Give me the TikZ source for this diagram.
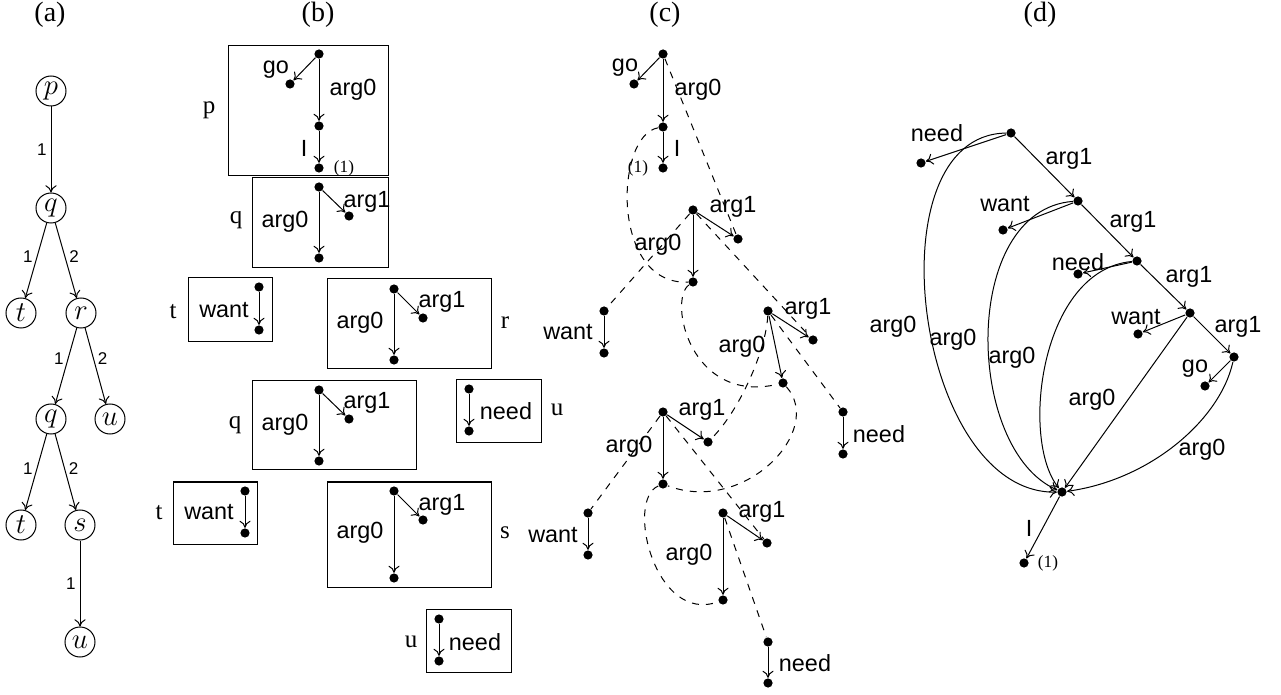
\documentclass[tikz,border=0pt]{standalone}
\usepackage{fontspec}
\setmainfont{Liberation Serif}
\setsansfont{Liberation Sans}
\usepackage{tikz}
\usetikzlibrary{arrows.meta}
\tikzset{
  dot/.style={circle,fill=black,inner sep=0pt,minimum size=4.6pt},
  tnode/.style={circle,draw,inner sep=0pt,minimum size=15pt,font=\Large},
  lab/.style={inner sep=0pt,font=\fontsize{11.7}{13}\selectfont\sffamily},
  num/.style={inner sep=0pt,font=\fontsize{8.5}{10}\selectfont\sffamily},
  frag/.style={inner sep=0pt,font=\fontsize{12.5}{14}\selectfont},
  idx/.style={inner sep=0pt,font=\fontsize{8.6}{10}\selectfont},
  panel/.style={inner sep=0pt,font=\fontsize{14}{16}\selectfont},
  fragbox/.style={draw,line width=0.5pt},
  glue/.style={dashed,dash pattern=on 3.5pt off 3.5pt}
}

\begin{document}
\begin{tikzpicture}[x=0.5pt,y=-0.5pt,>={To[length=3.6pt,width=5.6pt]},line width=0.5pt]
\useasboundingbox (0,0) rectangle (1281,695);

\node[panel] (la) at (50,15) {(a)};
\node[panel] (lb) at (318,15) {(b)};
\node[panel] (lc) at (665,15) {(c)};
\node[panel] (ld) at (1040,15) {(d)};

% (a)
\node[tnode] (p) at (51,91) {$p$};
\node[tnode] (q1) at (51,208) {$q$};
\node[tnode] (t1) at (21,313) {$t$};
\node[tnode] (r) at (81,313) {$r$};
\node[tnode] (q2) at (51,419) {$q$};
\node[tnode] (u1) at (110,419) {$u$};
\node[tnode] (t2) at (21,525) {$t$};
\node[tnode] (s) at (80,525) {$s$};
\node[tnode] (u2) at (80,642) {$u$};
\draw[->] (p) -- node[num,left=2pt,pos=0.5] {1} (q1);
\draw[->] (q1) -- node[num,left=2pt,pos=0.45] {1} (t1);
\draw[->] (q1) -- node[num,right=2pt,pos=0.45] {2} (r);
\draw[->] (r) -- node[num,left=2pt,pos=0.4] {1} (q2);
\draw[->] (r) -- node[num,right=2pt,pos=0.4] {2} (u1);
\draw[->] (q2) -- node[num,left=2pt,pos=0.45] {1} (t2);
\draw[->] (q2) -- node[num,right=2pt,pos=0.45] {2} (s);
\draw[->] (s) -- node[num,left=2pt,pos=0.5] {1} (u2);

% (b)
\draw[fragbox] (228,46) rectangle (388,176);
\node[frag] (bpl) at (209,110) {p};
\node[dot] (bp0) at (319,54) {};
\node[dot] (bpg) at (290,84) {};
\node[dot] (bp1) at (319,126) {};
\node[dot] (bp2) at (319,168) {};
\draw[->] (bp0) -- (bpg);
\draw[->] (bp0) -- (bp1);
\draw[->] (bp1) -- (bp2);
\node[lab] (bpgo) at (276,70) {go};
\node[lab] (bpa0) at (353,90) {arg0};
\node[lab] (bpi) at (304,148) {I};
\node[idx] (bpx) at (344,168) {(1)};

\draw[fragbox] (252,178) rectangle (388,268);
\node[frag] (bql) at (236,220) {q};
\node[dot] (bq0) at (319,187) {};
\node[dot] (bq1) at (349,216) {};
\node[dot] (bq2) at (319,258) {};
\draw[->] (bq0) -- (bq1);
\draw[->] (bq0) -- (bq2);
\node[lab] (bqa1) at (367,202) {arg1};
\node[lab] (bqa0) at (285,222) {arg0};

\draw[fragbox] (188,278) rectangle (272,342);
\node[frag] (btl) at (173,312) {t};
\node[dot] (bt0) at (259,287) {};
\node[dot] (bt1) at (259,330) {};
\draw[->] (bt0) -- (bt1);
\node[lab] (btw) at (224,310) {want};

\draw[fragbox] (327,279) rectangle (491,369);
\node[frag] (brl) at (505,323) {r};
\node[dot] (br0) at (394,289) {};
\node[dot] (br1) at (423,318) {};
\node[dot] (br2) at (394,360) {};
\draw[->] (br0) -- (br1);
\draw[->] (br0) -- (br2);
\node[lab] (bra1) at (442,302) {arg1};
\node[lab] (bra0) at (360,323) {arg0};

\draw[fragbox] (252,381) rectangle (416,470);
\node[frag] (bq2l) at (235,425) {q};
\node[dot] (bq20) at (319,390) {};
\node[dot] (bq21) at (349,419) {};
\node[dot] (bq22) at (319,461) {};
\draw[->] (bq20) -- (bq21);
\draw[->] (bq20) -- (bq22);
\node[lab] (bq2a1) at (367,403) {arg1};
\node[lab] (bq2a0) at (285,425) {arg0};

\draw[fragbox] (456,380) rectangle (541,443);
\node[frag] (bul) at (557,410) {u};
\node[dot] (bu0) at (469,389) {};
\node[dot] (bu1) at (469,431) {};
\draw[->] (bu0) -- (bu1);
\node[lab] (bun) at (506,411) {need};

\draw[fragbox] (173,482) rectangle (257,544);
\node[frag] (bt2l) at (159,513) {t};
\node[dot] (bt20) at (245,491) {};
\node[dot] (bt21) at (245,533) {};
\draw[->] (bt20) -- (bt21);
\node[lab] (bt2w) at (209,512) {want};

\draw[fragbox] (327,482) rectangle (491,587);
\node[frag] (bsl) at (505,533) {s};
\node[dot] (bs0) at (394,491) {};
\node[dot] (bs1) at (423,520) {};
\node[dot] (bs2) at (394,578) {};
\draw[->] (bs0) -- (bs1);
\draw[->] (bs0) -- (bs2);
\node[lab] (bsa1) at (442,505) {arg1};
\node[lab] (bsa0) at (360,533) {arg0};

\draw[fragbox] (426,609) rectangle (511,672);
\node[frag] (bu2l) at (411,642) {u};
\node[dot] (bu20) at (439,619) {};
\node[dot] (bu21) at (439,661) {};
\draw[->] (bu20) -- (bu21);
\node[lab] (bu2n) at (475,642) {need};

% (c)
\node[dot] (cA) at (663,54) {};
\node[dot] (cgo) at (634,84) {};
\node[dot] (cB) at (663,127) {};
\node[dot] (cC) at (663,168) {};
\node[dot] (cD) at (693,210) {};
\node[dot] (cDa) at (738,239) {};
\node[dot] (cE) at (693,282) {};
\node[dot] (cw1a) at (604,311) {};
\node[dot] (cw1b) at (604,353) {};
\node[dot] (cF) at (768,311) {};
\node[dot] (cFa) at (813,340) {};
\node[dot] (cG) at (783,383) {};
\node[dot] (cn1a) at (843,412) {};
\node[dot] (cn1b) at (843,454) {};
\node[dot] (cH) at (663,412) {};
\node[dot] (cHa) at (708,442) {};
\node[dot] (cI) at (663,484) {};
\node[dot] (cw2a) at (588,513) {};
\node[dot] (cw2b) at (588,555) {};
\node[dot] (cJ) at (723,513) {};
\node[dot] (cJa) at (767,543) {};
\node[dot] (cK) at (723,600) {};
\node[dot] (cn2a) at (768,642) {};
\node[dot] (cn2b) at (768,683) {};

\draw[->] (cA) -- (cgo);
\draw[->] (cA) -- (cB);
\draw[->] (cB) -- (cC);
\draw[->] (cD) -- (cDa);
\draw[->] (cD) -- (cE);
\draw[->] (cw1a) -- (cw1b);
\draw[->] (cF) -- (cFa);
\draw[->] (cF) -- (cG);
\draw[->] (cn1a) -- (cn1b);
\draw[->] (cH) -- (cHa);
\draw[->] (cH) -- (cI);
\draw[->] (cw2a) -- (cw2b);
\draw[->] (cJ) -- (cJa);
\draw[->] (cJ) -- (cK);
\draw[->] (cn2a) -- (cn2b);

\draw[glue] (cA) -- (cDa);
\draw[glue] (cD) -- (cw1a);
\draw[glue] (cD) -- (cFa);
\draw[glue] (cF) -- (cn1a);
\draw[glue] (cF) .. controls (766,350) and (740,410) .. (cHa);
\draw[glue] (cH) -- (cw2a);
\draw[glue] (cH) -- (cJa);
\draw[glue] (cJ) -- (cn2a);
\draw[glue] (cB) .. controls (615,135) and (610,285) .. (cE);
\draw[glue] (cE) .. controls (668,300) and (690,405) .. (cG);
\draw[glue] (cG) .. controls (825,430) and (745,515) .. (cI);
\draw[glue] (cI) .. controls (625,500) and (655,625) .. (cK);

\node[lab] (cgol) at (625,68) {go};
\node[lab] (ca0a) at (698,90) {arg0};
\node[lab] (cil) at (677,148) {I};
\node[idx] (cx) at (638,168) {(1)};
\node[lab] (ca1a) at (733,207) {arg1};
\node[lab] (ca0b) at (658,245) {arg0};
\node[lab] (cw1) at (568,332) {want};
\node[lab] (ca1b) at (808,309) {arg1};
\node[lab] (ca0c) at (742,347) {arg0};
\node[lab] (cn1) at (879,434) {need};
\node[lab] (ca1c) at (702,410) {arg1};
\node[lab] (ca0d) at (629,447) {arg0};
\node[lab] (cw2) at (553,535) {want};
\node[lab] (ca1d) at (762,512) {arg1};
\node[lab] (ca0e) at (689,555) {arg0};
\node[lab] (cn2) at (805,663) {need};

% (d)
\node[dot] (dR1) at (1011,133) {};
\node[dot] (dn1) at (921,163) {};
\node[dot] (dR2) at (1078,201) {};
\node[dot] (dw1) at (1003,230) {};
\node[dot] (dR3) at (1137,261) {};
\node[dot] (dn2) at (1078,274) {};
\node[dot] (dR4) at (1190,313) {};
\node[dot] (dw2) at (1138,334) {};
\node[dot] (dR5) at (1234,357) {};
\node[dot] (dgo) at (1205,386) {};
\node[dot] (dX) at (1062,492) {};
\node[dot] (dI) at (1024,563) {};

\draw[->] (dR1) -- (dn1);
\draw[->] (dR1) -- (dR2);
\draw[->] (dR2) -- (dw1);
\draw[->] (dR2) -- (dR3);
\draw[->] (dR3) -- (dn2);
\draw[->] (dR3) -- (dR4);
\draw[->] (dR4) -- (dw2);
\draw[->] (dR4) -- (dR5);
\draw[->] (dR5) -- (dgo);
\draw[->] (dR1) .. controls (870,135) and (915,495) .. (dX);
\draw[->] (dR2) .. controls (960,210) and (965,450) .. (dX);
\draw[->] (dR3) .. controls (1040,270) and (1020,440) .. (dX);
\draw[->] (dR4) -- (dX);
\draw[->] (dR5) .. controls (1220,420) and (1150,480) .. (dX);
\draw[->] (dX) -- (dI);

\node[lab] (dn1l) at (937,133) {need};
\node[lab] (da1a) at (1069,159) {arg1};
\node[lab] (dw1l) at (1005,204) {want};
\node[lab] (da1b) at (1133,222) {arg1};
\node[lab] (dn2l) at (1078,262) {need};
\node[lab] (da1c) at (1189,277) {arg1};
\node[lab] (dw2l) at (1136,317) {want};
\node[lab] (da1d) at (1238,327) {arg1};
\node[lab] (dgol) at (1195,369) {go};
\node[lab] (da0a) at (893,327) {arg0};
\node[lab] (da0b) at (953,340) {arg0};
\node[lab] (da0c) at (1012,358) {arg0};
\node[lab] (da0d) at (1092,400) {arg0};
\node[lab] (da0e) at (1202,450) {arg0};
\node[lab] (dil) at (1029,528) {I};
\node[idx] (dx) at (1048,563) {(1)};
\end{tikzpicture}
\end{document}
